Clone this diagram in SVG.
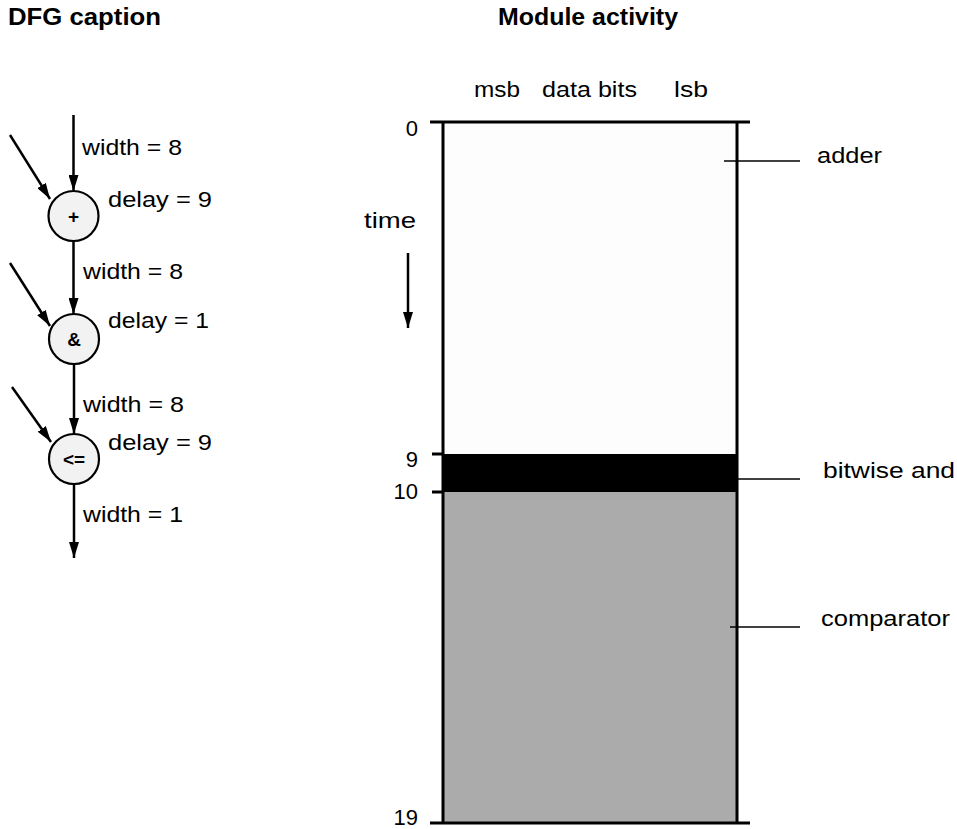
<svg xmlns="http://www.w3.org/2000/svg" width="957" height="829" viewBox="0 0 957 829">
<style>
  .title { font-family: "Liberation Sans", Arial, sans-serif; font-weight: bold; font-size: 23px; fill: #000; }
  .lbl { font-family: "Liberation Sans", Arial, sans-serif; font-size: 22px; fill: #000; }
  .op { font-family: "Liberation Sans", Arial, sans-serif; font-size: 19px; font-weight: bold; fill: #000; text-anchor: middle; }
  .edge { stroke: #000; stroke-width: 2.5; fill: none; }
  .node { fill: #f2f2f2; stroke: #000; stroke-width: 2.2; }
  .axis { stroke: #000; stroke-width: 3; fill: none; }
  .leader { stroke: #000; stroke-width: 1.5; fill: none; }
</style>
<defs>
  <marker id="arr" markerWidth="16" markerHeight="10" refX="16" refY="5" orient="auto" markerUnits="userSpaceOnUse">
    <path d="M0,0 L16,5 L0,10 z" fill="#000"/>
  </marker>
</defs>
<rect width="957" height="829" fill="#fff"/>

<text class="title" x="8" y="25" textLength="153" lengthAdjust="spacingAndGlyphs">DFG caption</text>
<text class="title" x="498" y="25" textLength="180" lengthAdjust="spacingAndGlyphs">Module activity</text>

<!-- DFG connectors -->
<g id="connectors">
  <line class="edge" x1="73.5" y1="115" x2="73.5" y2="191" marker-end="url(#arr)"/>
  <line class="edge" x1="10" y1="135" x2="50" y2="199" marker-end="url(#arr)"/>
  <line class="edge" x1="73.5" y1="241" x2="73.5" y2="314" marker-end="url(#arr)"/>
  <line class="edge" x1="10" y1="263" x2="50" y2="326" marker-end="url(#arr)"/>
  <line class="edge" x1="74" y1="364" x2="74" y2="434" marker-end="url(#arr)"/>
  <line class="edge" x1="12" y1="387" x2="51" y2="442" marker-end="url(#arr)"/>
  <line class="edge" x1="74" y1="484" x2="74" y2="558" marker-end="url(#arr)"/>
</g>

<g id="edge-labels">
  <text class="lbl" x="82" y="155" textLength="100" lengthAdjust="spacingAndGlyphs">width = 8</text>
  <text class="lbl" x="108" y="207" textLength="104" lengthAdjust="spacingAndGlyphs">delay = 9</text>
  <text class="lbl" x="83" y="279" textLength="100" lengthAdjust="spacingAndGlyphs">width = 8</text>
  <text class="lbl" x="108" y="328" textLength="101" lengthAdjust="spacingAndGlyphs">delay = 1</text>
  <text class="lbl" x="83" y="412" textLength="101" lengthAdjust="spacingAndGlyphs">width = 8</text>
  <text class="lbl" x="108" y="450" textLength="104" lengthAdjust="spacingAndGlyphs">delay = 9</text>
  <text class="lbl" x="83" y="522" textLength="100" lengthAdjust="spacingAndGlyphs">width = 1</text>
</g>

<g id="node-add">
  <circle class="node" cx="73.5" cy="216" r="25"/>
  <text class="op" x="73.5" y="223">+</text>
</g>
<g id="node-and">
  <circle class="node" cx="74" cy="339" r="25"/>
  <text class="op" x="74" y="346">&amp;</text>
</g>
<g id="node-le">
  <circle class="node" cx="74" cy="459" r="25"/>
  <text class="op" x="74" y="466">&lt;=</text>
</g>

<!-- Module activity chart -->
<g id="chart">
  <rect x="443" y="122" width="294" height="332" fill="#fdfdfd"/>
  <rect x="443" y="454" width="294" height="38" fill="#000"/>
  <rect x="443" y="492" width="294" height="331" fill="#ababab"/>
  <line class="axis" x1="430" y1="122" x2="750" y2="122"/>
  <line class="axis" x1="430" y1="823" x2="750" y2="823"/>
  <line class="axis" x1="443" y1="122" x2="443" y2="823"/>
  <line class="axis" x1="737" y1="122" x2="737" y2="823"/>
  <line class="axis" x1="432" y1="454" x2="443" y2="454"/>
  <line class="axis" x1="432" y1="492" x2="443" y2="492"/>
</g>

<g id="column-labels">
  <text class="lbl" x="474" y="97" textLength="46" lengthAdjust="spacingAndGlyphs">msb</text>
  <text class="lbl" x="542" y="97" textLength="95" lengthAdjust="spacingAndGlyphs">data bits</text>
  <text class="lbl" x="674" y="97" textLength="34" lengthAdjust="spacingAndGlyphs">lsb</text>
</g>

<g id="time-axis">
  <text class="lbl" x="418" y="136" text-anchor="end">0</text>
  <text class="lbl" x="418" y="467" text-anchor="end">9</text>
  <text class="lbl" x="418" y="499" text-anchor="end">10</text>
  <text class="lbl" x="418" y="825" text-anchor="end">19</text>
  <text class="lbl" x="364" y="228" textLength="52" lengthAdjust="spacingAndGlyphs">time</text>
  <line class="edge" x1="408" y1="253" x2="408" y2="328" marker-end="url(#arr)"/>
</g>

<g id="module-adder">
  <line class="leader" x1="724" y1="161" x2="800" y2="161"/>
  <text class="lbl" x="817" y="163" textLength="65" lengthAdjust="spacingAndGlyphs">adder</text>
</g>
<g id="module-bitwise-and">
  <line class="leader" x1="737" y1="479" x2="800" y2="479"/>
  <text class="lbl" x="823" y="478" textLength="132" lengthAdjust="spacingAndGlyphs">bitwise and</text>
</g>
<g id="module-comparator">
  <line class="leader" x1="730" y1="627" x2="800" y2="627"/>
  <text class="lbl" x="821" y="626" textLength="129" lengthAdjust="spacingAndGlyphs">comparator</text>
</g>
</svg>
